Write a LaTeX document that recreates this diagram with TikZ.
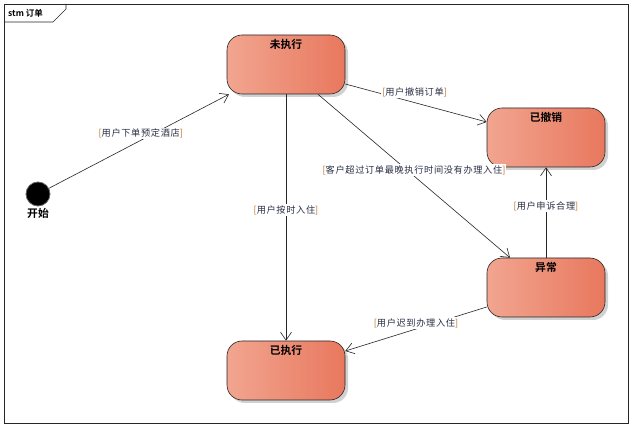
\documentclass[tikz,border=0pt]{standalone}
\usepackage{fontspec}
\newfontfamily\cjk{Noto Sans CJK SC}[BoldFont={Noto Sans CJK SC Bold}]
\newfontfamily\cjkl{Noto Sans CJK SC}[LetterSpace=7]
\usetikzlibrary{arrows.meta,shadows,positioning}
\definecolor{stL}{HTML}{F2A590}
\definecolor{stR}{HTML}{E8785E}
\definecolor{lbltxt}{HTML}{2A2F45}
\definecolor{brk}{HTML}{C07020}
\newcommand{\mylbl}[1]{\textcolor{brk}{[}#1\textcolor{brk}{]}}
\tikzset{
  statebox/.style={rectangle, rounded corners=15pt, draw=black!85, line width=0.6pt,
    minimum width=118pt, minimum height=59pt, left color=stL, right color=stR,
    drop shadow={shadow xshift=3pt, shadow yshift=-3pt, fill=black!18, opacity=1}},
  stitle/.style={anchor=north, inner sep=0pt, font=\cjk\bfseries\fontsize{10.8}{12}\selectfont, text=black},
  trans/.style={draw=black!85, line width=0.6pt, -{Straight Barb[length=8pt,width=11pt,line width=0.6pt]}},
  lbl/.style={fill=white, inner sep=1pt, text=lbltxt, font=\cjkl\fontsize{9.2}{11}\selectfont},
}
\begin{document}
\begin{tikzpicture}[x=1pt,y=-1pt]
\useasboundingbox (0,0) rectangle (632,427);
\fill[white] (0,0) rectangle (632,427);
% frame
\draw[black!85, line width=0.6pt] (4,4) rectangle (628,423);
\draw[black!85, line width=0.6pt] (4,22) -- (53,22) -- (66,9) -- (66,4);
\node[anchor=west, inner sep=0pt, font=\cjk\bfseries\fontsize{8.5}{10}\selectfont] (frametitle) at (8,13.5) {stm 订单};
% states
\node[statebox] (wzx) at (286,64.5) {};
\node[stitle] at ([yshift=-4pt]wzx.north) {未执行};
\node[statebox] (ycx) at (546,137.5) {};
\node[stitle] at ([yshift=-4pt]ycx.north) {已撤销};
\node[statebox] (yc) at (546,287.5) {};
\node[stitle] at ([yshift=-4pt]yc.north) {异常};
\node[statebox] (yzx) at (286,370.5) {};
\node[stitle] at ([yshift=-4pt]yzx.north) {已执行};
% start
\node[circle, fill=black, draw=black!60, line width=0.8pt, minimum size=24pt, inner sep=0pt] (start) at (38,194) {};
\node[stitle, anchor=north] (startlbl) at ([yshift=-2pt]start.south) {开始};
% transitions
\draw[trans] (start) -- node[lbl, pos=.51, yshift=7pt] {\mylbl{用户下单预定酒店}} (wzx);
\draw[trans] ([yshift=-19.5pt]wzx.east) -- node[lbl, pos=.49, yshift=10pt] {\mylbl{用户撤销订单}} ([yshift=15.5pt]ycx.west);
\draw[trans] ([xshift=32pt]wzx.south) -- node[lbl, pos=.5, yshift=6pt] {\mylbl{客户超过订单最晚执行时间没有办理入住}} ([xshift=-36pt]yc.north);
\draw[trans] (wzx.south) -- node[lbl, pos=.47] {\mylbl{用户按时入住}} (yzx.north);
\draw[trans] (yc.north) -- node[lbl, pos=.57] {\mylbl{用户申诉合理}} (ycx.south);
\draw[trans] ([yshift=-19.5pt]yc.west) -- node[lbl, pos=.5, yshift=6pt] {\mylbl{用户迟到办理入住}} ([yshift=19.5pt]yzx.east);
\end{tikzpicture}
\end{document}
